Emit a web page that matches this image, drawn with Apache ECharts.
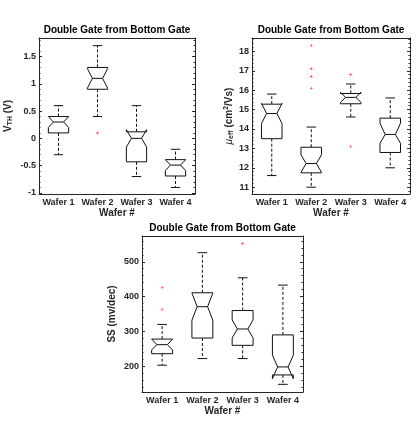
<!DOCTYPE html>
<html>
<head>
<meta charset="utf-8">
<script src="https://cdn.jsdelivr.net/npm/echarts@6/dist/echarts.min.js"></script>
<style>
  html, body { margin: 0; padding: 0; background: #fff; }
  #main { width: 416px; height: 427px; }
</style>
</head>
<body>
<div id="main"></div>
<script>
// categories
var wafers = ["Wafer 1", "Wafer 2", "Wafer 3", "Wafer 4"];

// box stats per wafer: [whisker low, q1, median, q3, whisker high, notch low, notch high]
var vthStats = [
  [-0.3, 0.1, 0.3, 0.4, 0.6, 0.2, 0.4],
  [0.4, 0.9, 1.1, 1.3, 1.7, 0.92, 1.28],
  [-0.7, -0.43, 0.0, 0.12, 0.6, -0.16, 0.16],
  [-0.9, -0.69, -0.49, -0.39, -0.2, -0.59, -0.39]
];
var vthOutliers = [[], [0.1], [], []];

var muStats = [
  [11.6, 13.5, 14.8, 15.28, 15.8, 14.28, 15.32],
  [11.0, 11.74, 12.22, 13.06, 14.1, 11.77, 12.67],
  [14.62, 15.3, 15.63, 15.83, 16.32, 15.37, 15.89],
  [12.0, 12.79, 13.72, 14.56, 15.6, 13.26, 14.3]
];
var muOutliers = [[], [18.3, 17.1, 16.7, 16.1], [16.8, 13.1], []];

var ssStats = [
  [203, 236, 262, 278, 320, 247, 278],
  [222, 281, 371, 411, 526, 332, 410],
  [222, 260, 307, 360, 454, 281, 333],
  [148, 175, 198, 290, 433, 164, 232]
];
var ssOutliers = [[426, 363], [], [552], []];

var axisColor = "#262626";
var font = "Liberation Sans";

function renderBox(params, api) {
  var xi = api.value(0);
  var band = api.size([1, 0])[0];
  var hw = band * 0.26;
  var nw = hw / 2;
  var cw = band * 0.12;
  var cx = api.coord([xi, api.value(3)])[0];
  function y(i) { return api.coord([xi, api.value(i)])[1]; }
  var lo = y(1), q1 = y(2), med = y(3), q3 = y(4), hi = y(5), nlo = y(6), nhi = y(7);
  var line = { stroke: "#111", lineWidth: 1, fill: null };
  var dash = { stroke: "#111", lineWidth: 1, lineDash: [3, 2] };
  var pts = [
    [cx - hw, q1], [cx - hw, nlo], [cx - hw + nw, med], [cx - hw, nhi], [cx - hw, q3],
    [cx + hw, q3], [cx + hw, nhi], [cx + hw - nw, med], [cx + hw, nlo], [cx + hw, q1]
  ];
  return {
    type: "group",
    children: [
      { type: "line", shape: { x1: cx, y1: q3, x2: cx, y2: hi }, style: dash },
      { type: "line", shape: { x1: cx, y1: q1, x2: cx, y2: lo }, style: dash },
      { type: "line", shape: { x1: cx - cw, y1: hi, x2: cx + cw, y2: hi }, style: line },
      { type: "line", shape: { x1: cx - cw, y1: lo, x2: cx + cw, y2: lo }, style: line },
      { type: "polygon", shape: { points: pts }, style: { stroke: "#111", lineWidth: 1, fill: "#fff" } },
      { type: "line", shape: { x1: cx - hw + nw, y1: med, x2: cx + hw - nw, y2: med }, style: line }
    ]
  };
}

var grids = [
  { left: 39, top: 38, width: 156, height: 156 },
  { left: 252, top: 38, width: 158, height: 156 },
  { left: 142, top: 236, width: 161, height: 156 }
];

var panels = [
  { stats: vthStats, outliers: vthOutliers, min: -1.02, max: 1.84, split: 5,
    name: "V{sub|TH} (V)", nameGap: 25 },
  { stats: muStats, outliers: muOutliers, min: 10.65, max: 18.69, split: 8,
    name: "{mu|μ}{sub|eff} (cm{sup|2}/Vs)", nameGap: 17 },
  { stats: ssStats, outliers: ssOutliers, min: 126, max: 574, split: 5,
    name: "SS (mv/dec)", nameGap: 25 }
];

var nameRich = {
  sub: { fontSize: 7, fontWeight: "bold", fontFamily: font, color: axisColor, padding: [5, 0, 0, 0] },
  sup: { fontSize: 7, fontWeight: "bold", fontFamily: font, color: axisColor, padding: [0, 0, 5, 0] },
  mu: { fontSize: 10, fontStyle: "italic", fontWeight: "normal", fontFamily: font, color: axisColor }
};

var xAxes = [], yAxes = [], series = [], titles = [];
var plus = "path://M4,0h2v4h4v2h-4v4h-2v-4h-4v-2h4z";

panels.forEach(function (p, g) {
  var gr = grids[g];
  titles.push({
    text: "Double Gate from Bottom Gate",
    left: gr.left + gr.width / 2,
    top: gr.top - 13,
    textAlign: "center",
    padding: 0,
    textStyle: { fontSize: 10, fontWeight: "bold", fontFamily: font, color: "#000" }
  });
  xAxes.push({
    type: "category", gridIndex: g, data: wafers, position: "bottom",
    name: "Wafer #", nameLocation: "middle", nameGap: 14,
    nameTextStyle: { fontSize: 10, fontWeight: "bold", fontFamily: font, color: axisColor },
    axisLine: { onZero: false, lineStyle: { color: axisColor, width: 1 } },
    axisTick: { inside: true, alignWithLabel: true, interval: 0, length: 3, lineStyle: { color: axisColor } },
    axisLabel: { interval: 0, margin: 4, fontSize: 9, fontWeight: "bold", fontFamily: font, color: axisColor },
    splitLine: { show: false }
  });
  xAxes.push({
    type: "category", gridIndex: g, data: wafers, position: "top",
    axisLine: { onZero: false, lineStyle: { color: axisColor, width: 1 } },
    axisTick: { inside: true, alignWithLabel: true, interval: 0, length: 3, lineStyle: { color: axisColor } },
    axisLabel: { show: false },
    splitLine: { show: false }
  });
  yAxes.push({
    type: "value", gridIndex: g, position: "left", min: p.min, max: p.max, splitNumber: p.split,
    name: p.name, nameLocation: "middle", nameGap: p.nameGap,
    nameTextStyle: { fontSize: 10, fontWeight: "bold", fontFamily: font, color: axisColor, rich: nameRich },
    axisLine: { show: true, onZero: false, lineStyle: { color: axisColor, width: 1 } },
    axisTick: { show: true, inside: true, length: 3, lineStyle: { color: axisColor } },
    minorTick: { show: true, splitNumber: 5, length: 1.5, lineStyle: { color: axisColor } },
    axisLabel: { margin: 3, fontSize: 9, fontWeight: "bold", fontFamily: font, color: axisColor,
      showMinLabel: false, showMaxLabel: false },
    splitLine: { show: false }
  });
  yAxes.push({
    type: "value", gridIndex: g, position: "right", min: p.min, max: p.max, splitNumber: p.split,
    axisLine: { show: true, onZero: false, lineStyle: { color: axisColor, width: 1 } },
    axisTick: { show: true, inside: true, length: 3, lineStyle: { color: axisColor } },
    minorTick: { show: true, splitNumber: 5, length: 1.5, lineStyle: { color: axisColor } },
    axisLabel: { show: false },
    splitLine: { show: false }
  });
  series.push({
    type: "custom",
    xAxisIndex: g * 2, yAxisIndex: g * 2,
    renderItem: renderBox,
    encode: { x: 0, y: [1, 2, 3, 4, 5, 6, 7] },
    data: p.stats.map(function (s, i) { return [i].concat(s); }),
    z: 3
  });
  var pts = [];
  p.outliers.forEach(function (vals, i) {
    vals.forEach(function (v) { pts.push([i, v]); });
  });
  series.push({
    type: "scatter",
    xAxisIndex: g * 2, yAxisIndex: g * 2,
    symbol: plus, symbolSize: 3,
    itemStyle: { color: "#ff0000" },
    data: pts,
    z: 4
  });
});

var chart = echarts.init(document.getElementById("main"), null, { renderer: "canvas" });
chart.setOption({
  animation: false,
  backgroundColor: "#fff",
  title: titles,
  grid: grids,
  xAxis: xAxes,
  yAxis: yAxes,
  series: series
});
</script>
</body>
</html>
